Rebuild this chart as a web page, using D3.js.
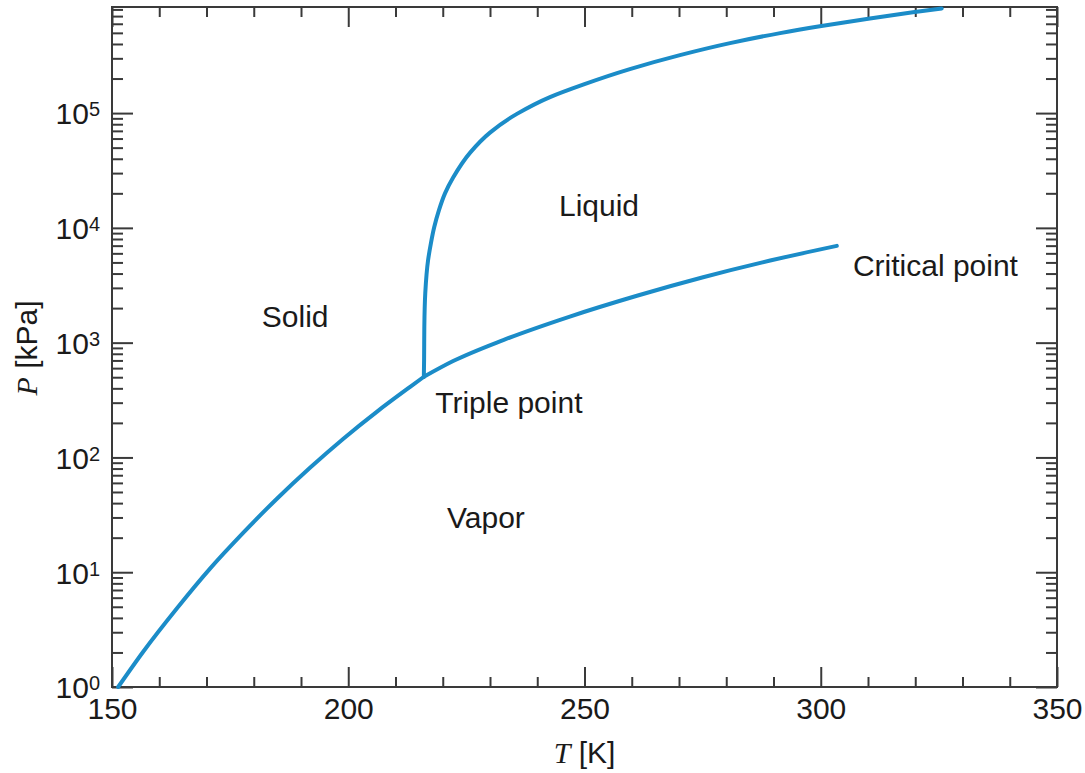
<!DOCTYPE html>
<html>
<head>
<meta charset="utf-8">
<script src="https://cdn.jsdelivr.net/npm/d3@7"></script>
<style>
  body { margin: 0; background: #fff; }
  text { font-family: "Liberation Sans", Arial, sans-serif; fill: #1a1a1a; }
</style>
</head>
<body>
<script>
'use strict';

// sublimation curve (solid / vapor)
var sublimationT = [151.3, 156.6, 163.8, 170.7, 177.7, 184.9, 191.9, 198.9, 206.1, 213.1, 216.0];
var sublimationP = [1.0, 2.03, 4.88, 10.7, 21.9, 43.7, 81.3, 145, 251, 412, 504];

// melting curve (solid / liquid)
var meltingT = [216.0, 216.05, 216.1, 216.3, 216.9, 217.5, 218.2, 219.2, 220.5, 222.2, 225.8, 230.0, 235.7, 242.7, 249.7, 259.6, 270.2, 280.8, 291.4, 299.8, 310.4, 319.5, 325.6];
var meltingP = [504, 705, 1367, 2705, 5243, 7372, 10160, 14290, 20100, 27440, 45280, 67630, 98400, 137900, 177100, 241700, 320100, 407200, 497600, 570300, 666200, 755100, 816600];

// vaporization curve (liquid / vapor), ends at critical point
var vaporT = [216.0, 222.2, 232.8, 246.9, 261.1, 275.1, 289.3, 303.4];
var vaporP = [504, 691, 1053, 1688, 2562, 3713, 5190, 6970];

var xTicks = [150, 200, 250, 300, 350];
var yTicks = [1, 10, 100, 1000, 10000, 100000];

var regionNames = ["Solid", "Liquid", "Triple point", "Critical point", "Vapor"];
var regionT = [181.7, 244.6, 218.4, 306.8, 220.9];
var regionP = [1368, 12670, 244, 3800, 24.3];

var svgContainer = d3.select("body")
        .append("svg")
        .attr("width", 1085)
        .attr("height", 773)

var margin = {top: 7, right: 28, bottom: 86, left: 112},
    width = 1085 - margin.left - margin.right,
    height = 773 - margin.top - margin.bottom;

var g = svgContainer.append("g")
        .attr("transform", "translate(" + margin.left + "," + margin.top + ")");

var xScale = d3.scaleLinear().domain([150, 350]).range([0, width]);
var yScale = d3.scaleLog().domain([1, 8.4e5]).range([height, 0]);

// minor ticks
var xMinor = d3.range(150, 351, 10).filter(function(d) { return xTicks.indexOf(d) < 0; });
var yMinor = [];
yTicks.forEach(function(p) {
    for (var k = 2; k <= 9; k++) if (p * k < 8.4e5) yMinor.push(p * k);
});

var axisColor = "#3a3a3a";

function styleAxis(sel) {
    sel.select(".domain").remove();
    sel.selectAll(".tick line").attr("stroke", axisColor).attr("stroke-width", 2);
}

// bottom
g.append("g").attr("transform", "translate(0," + height + ")")
    .call(d3.axisBottom(xScale).tickValues(xMinor).tickSize(-10).tickFormat(""))
    .call(styleAxis);
var xAx = g.append("g").attr("transform", "translate(0," + height + ")")
    .call(d3.axisBottom(xScale).tickValues(xTicks).tickSize(-20).tickPadding(11).tickFormat(d3.format("d")))
    .call(styleAxis);
xAx.selectAll(".tick text").attr("font-size", 30).attr("fill", "#1a1a1a")
    .style("font-family", "'Liberation Sans', Arial, sans-serif");

// top
g.append("g")
    .call(d3.axisTop(xScale).tickValues(xMinor).tickSize(-10).tickFormat(""))
    .call(styleAxis);
g.append("g")
    .call(d3.axisTop(xScale).tickValues(xTicks).tickSize(-20).tickFormat(""))
    .call(styleAxis);

// left
g.append("g")
    .call(d3.axisLeft(yScale).tickValues(yMinor).tickSize(-11).tickFormat(""))
    .call(styleAxis);
var yAx = g.append("g")
    .call(d3.axisLeft(yScale).tickValues(yTicks).tickSize(-21).tickPadding(12))
    .call(styleAxis);
yAx.selectAll(".tick text").each(function(d) {
    var t = d3.select(this);
    t.text(null).attr("dy", "0.36em").attr("font-size", 30).attr("fill", "#1a1a1a")
        .style("font-family", "'Liberation Sans', Arial, sans-serif");
    t.append("tspan").text("10");
    t.append("tspan").attr("dy", -8).attr("font-size", 20).text(Math.round(Math.log10(d)));
});

// right
g.append("g").attr("transform", "translate(" + width + ",0)")
    .call(d3.axisRight(yScale).tickValues(yMinor).tickSize(-11).tickFormat(""))
    .call(styleAxis);
g.append("g").attr("transform", "translate(" + width + ",0)")
    .call(d3.axisRight(yScale).tickValues(yTicks).tickSize(-21).tickFormat(""))
    .call(styleAxis);

// frame
g.append("rect")
    .attr("width", width).attr("height", height)
    .attr("fill", "none").attr("stroke", axisColor).attr("stroke-width", 2);

// phase boundaries
function phaseLine(curve) {
    return d3.line()
        .x(function(d) { return xScale(d[0]); })
        .y(function(d) { return yScale(d[1]); })
        .curve(curve);
}

[[sublimationT, sublimationP, d3.curveMonotoneX],
 [meltingT, meltingP, d3.curveMonotoneY],
 [vaporT, vaporP, d3.curveMonotoneX]].forEach(function(s) {
    g.append("path")
        .datum(d3.zip(s[0], s[1]))
        .attr("fill", "none")
        .attr("stroke", "#1b8cc8")
        .attr("stroke-width", 4)
        .attr("stroke-linecap", "round")
        .attr("stroke-linejoin", "round")
        .attr("d", phaseLine(s[2]));
});

// region labels
g.selectAll(".region")
    .data(regionNames)
    .enter()
    .append("text")
    .attr("class", "region")
    .attr("x", function(d, i) { return xScale(regionT[i]); })
    .attr("y", function(d, i) { return yScale(regionP[i]); })
    .attr("font-size", 30)
    .text(function(d) { return d; });

// axis titles
var xt = svgContainer.append("text")
    .attr("x", margin.left + width / 2)
    .attr("y", 763)
    .attr("text-anchor", "middle")
    .attr("font-size", 30);
xt.append("tspan").style("font-family", "'Liberation Serif', serif").attr("font-style", "italic").text("T");
xt.append("tspan").text(" [K]");

var yt = svgContainer.append("text")
    .attr("transform", "translate(37," + (margin.top + 341) + ") rotate(-90)")
    .attr("text-anchor", "middle")
    .attr("font-size", 30);
yt.append("tspan").style("font-family", "'Liberation Serif', serif").attr("font-style", "italic").text("P");
yt.append("tspan").text(" [kPa]");
</script>
</body>
</html>
